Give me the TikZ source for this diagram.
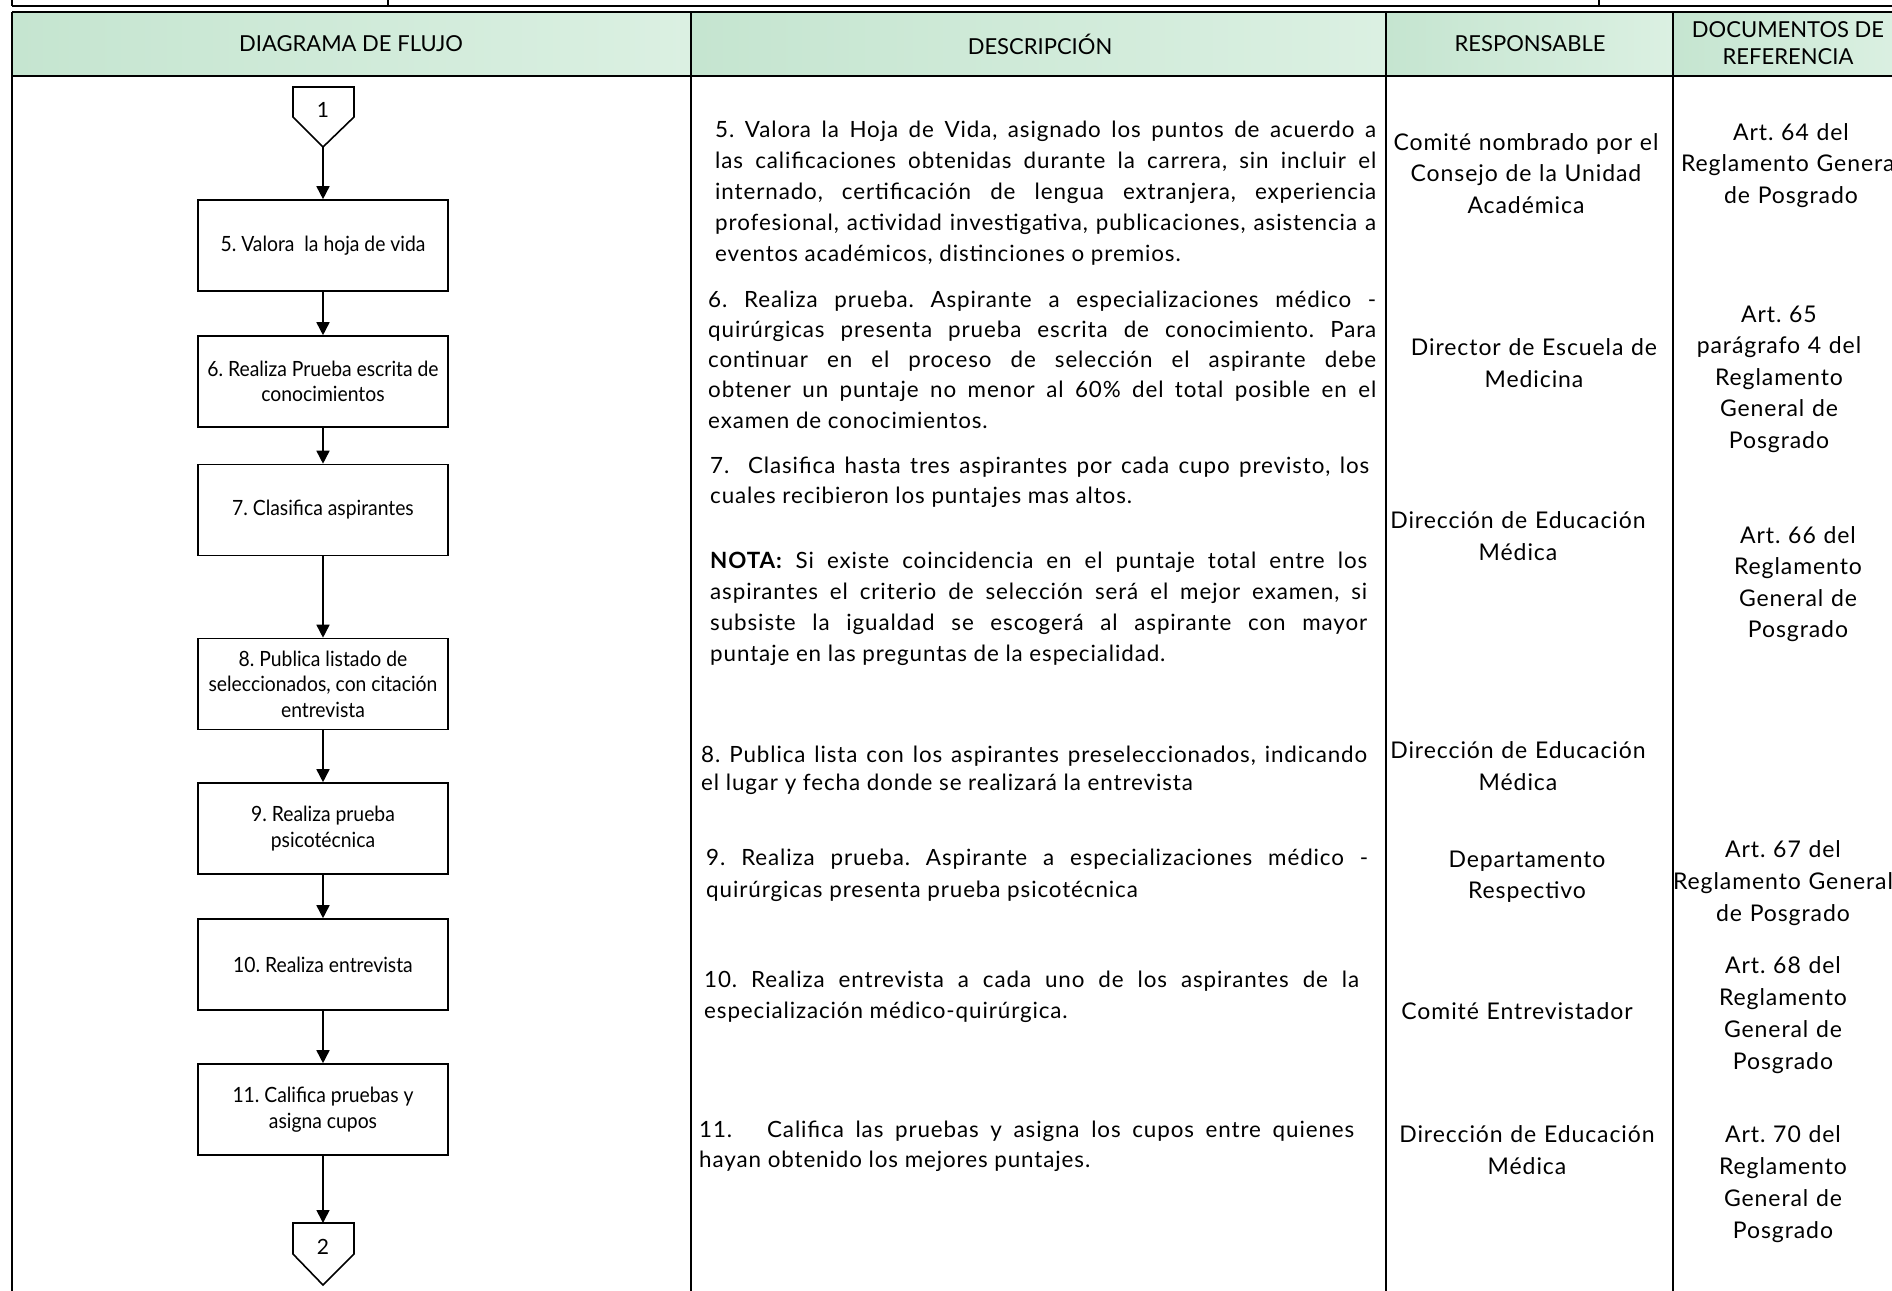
\documentclass[tikz,border=0pt]{standalone}
\usepackage{fontspec}
\setmainfont{Lato}
\newfontfamily\cajafont[FakeStretch=0.92]{Lato}
\newfontfamily\descfont[LetterSpace=4]{Lato}
\usetikzlibrary{arrows.meta,positioning}
\definecolor{verdeA}{RGB}{197,229,208}
\definecolor{verdeB}{RGB}{219,240,226}
\hyphenpenalty=10000
\tolerance=10000
\frenchspacing

\tikzset{
  caja/.style={draw, line width=1.6pt, minimum width=250pt, minimum height=91pt, align=center, inner sep=4pt,
    font={\cajafont\fontsize{21}{25.5}\selectfont}},
  flecha/.style={line width=1.6pt, -{Triangle[length=13pt,width=13pt]}},
  linea/.style={line width=1.6pt},
  desc/.style={anchor=base west, inner sep=0pt, align=justify, font={\descfont\fontsize{22.4}{31}\selectfont}},
  resp/.style={anchor=base, inner sep=0pt, text width=280pt, align=center, font={\descfont\fontsize{23}{#1}\selectfont}},
  resp/.default=31.5,
  titulo/.style={align=center, font={\fontsize{22}{27}\selectfont}}
}

\begin{document}
\begin{tikzpicture}[x=1pt,y=-1pt]
\useasboundingbox (0,0) rectangle (1892,1290);
\clip (0,0) rectangle (1892,1290);

% fila superior
\draw[linea] (12,6) -- (1900,6);
\draw[linea] (12,0) -- (12,6);
\draw[linea] (388,0) -- (388,6);
\draw[linea] (1599,0) -- (1599,6);

% encabezado
\shade[left color=verdeA, right color=verdeB] (12,12) rectangle (691,76);
\shade[left color=verdeA, right color=verdeB] (691,12) rectangle (1386,76);
\shade[left color=verdeA, right color=verdeB] (1386,12) rectangle (1673,76);
\shade[left color=verdeA, right color=verdeB] (1673,12) rectangle (1900,76);
\draw[linea] (12,12) -- (1900,12);
\draw[linea] (12,76) -- (1900,76);
\foreach \x in {12,691,1386,1673}
  \draw[linea] (\x,12) -- (\x,1300);

\node[titulo] (hdiag) at (351,44) {DIAGRAMA DE FLUJO};
\node[titulo] (hdesc) at (1040,44) {DESCRIPCIÓN};
\node[titulo] (hresp) at (1530,44) {RESPONSABLE};
\node[titulo] (hdoc) at (1788,43) {DOCUMENTOS DE\\REFERENCIA};

% diagrama de flujo
\draw[linea] (293,87) -- (354,87) -- (354,117) -- (323,147) -- (293,117) -- cycle;
\node[font={\fontsize{21}{21}\selectfont}] (c1) at (323,110) {1};
\coordinate (c1punta) at (323,147);

\node[caja] (b5) at (323,245.5) {5. Valora\ \ la hoja de vida};
\node[caja] (b6) at (323,381.5) {6. Realiza Prueba escrita de\\conocimientos};
\node[caja] (b7) at (323,510) {7. Clasifica aspirantes};
\node[caja] (b8) at (323,684) {8. Publica listado de\\seleccionados, con citación\\entrevista};
\node[caja] (b9) at (323,828.5) {9. Realiza prueba\\psicotécnica};
\node[caja] (b10) at (323,964.5) {10. Realiza entrevista};
\node[caja] (b11) at (323,1109.5) {11. Califica pruebas y\\asigna cupos};

\draw[linea] (293,1223) -- (354,1223) -- (354,1254) -- (323,1285) -- (293,1254) -- cycle;
\node[font={\fontsize{21}{21}\selectfont}] (c2) at (323,1247) {2};
\coordinate (c2tope) at (323,1223);

\draw[flecha] (c1punta) -- (b5);
\foreach \a/\b in {b5/b6,b6/b7,b7/b8,b8/b9,b9/b10,b10/b11}
  \draw[flecha] (\a) -- (\b);
\draw[flecha] (b11) -- (c2tope);

% descripcion
\node[desc, text width=661pt] (d5) at (715,137) {5. Valora la Hoja de Vida, asignado los puntos de acuerdo a\linebreak las calificaciones obtenidas durante la carrera, sin incluir el\linebreak internado, certificación de lengua extranjera, experiencia\linebreak profesional, actividad investigativa, publicaciones, asistencia a\linebreak eventos académicos, distinciones o premios.};
\node[desc, text width=668pt, font={\descfont\fontsize{22.4}{30.3}\selectfont}] (d6) at (708,307) {6. Realiza prueba. Aspirante a especializaciones médico -\linebreak quirúrgicas presenta prueba escrita de conocimiento. Para\linebreak continuar en el proceso de selección el aspirante debe\linebreak obtener un puntaje no menor al 60\% del total posible en el\linebreak examen de conocimientos.};
\node[desc, text width=659pt, font={\descfont\fontsize{22.4}{30}\selectfont}] (d7) at (710,473) {7.\ \ Clasifica hasta tres aspirantes por cada cupo previsto, los\linebreak cuales recibieron los puntajes mas altos.};
\node[desc, text width=657pt] (nota) at (710,568) {\textbf{NOTA:} Si existe coincidencia en el puntaje total entre los\linebreak aspirantes el criterio de selección será el mejor examen, si\linebreak subsiste la igualdad se escogerá al aspirante con mayor\linebreak puntaje en las preguntas de la especialidad.};
\node[desc, text width=666pt, font={\descfont\fontsize{22.4}{28}\selectfont}] (d8) at (701,762) {8. Publica lista con los aspirantes preseleccionados, indicando\linebreak el lugar y fecha donde se realizará la entrevista};
\node[desc, text width=662pt, font={\descfont\fontsize{22.4}{32}\selectfont}] (d9) at (706,865) {9. Realiza prueba. Aspirante a especializaciones médico -\linebreak quirúrgicas presenta prueba psicotécnica};
\node[desc, text width=655pt] (d10) at (704,987) {10. Realiza entrevista a cada uno de los aspirantes de la\linebreak especialización médico-quirúrgica.};
\node[desc, text width=655pt, font={\descfont\fontsize{22.4}{30}\selectfont}] (d11) at (699,1137) {11.\ \ \ Califica las pruebas y asigna los cupos entre quienes\linebreak hayan obtenido los mejores puntajes.};

% responsable
\node[resp] (r5) at (1526,150) {Comité nombrado por el\\Consejo de la Unidad\\Académica};
\node[resp=32] (r6) at (1534,355) {Director de Escuela de\\Medicina};
\node[resp=32] (r7) at (1518,528) {Dirección de Educación\\Médica};
\node[resp=32] (r8) at (1518,758) {Dirección de Educación\\Médica};
\node[resp] (r9) at (1527,867) {Departamento\\Respectivo};
\node[resp] (r10) at (1517,1019) {Comité Entrevistador};
\node[resp=32] (r11) at (1527,1142) {Dirección de Educación\\Médica};

% documentos de referencia
\node[resp] (a5) at (1791,140) {Art. 64 del\\Reglamento General\\de Posgrado};
\node[resp] (a6) at (1779,322) {Art. 65\\parágrafo 4 del\\Reglamento\\General de\\Posgrado};
\node[resp] (a7) at (1798,543) {Art. 66 del\\Reglamento\\General de\\Posgrado};
\node[resp=32] (a9) at (1783,857) {Art. 67 del\\Reglamento General\\de Posgrado};
\node[resp=32] (a10) at (1783,973) {Art. 68 del\\Reglamento\\General de\\Posgrado};
\node[resp=32] (a11) at (1783,1142) {Art. 70 del\\Reglamento\\General de\\Posgrado};
\end{tikzpicture}
\end{document}
